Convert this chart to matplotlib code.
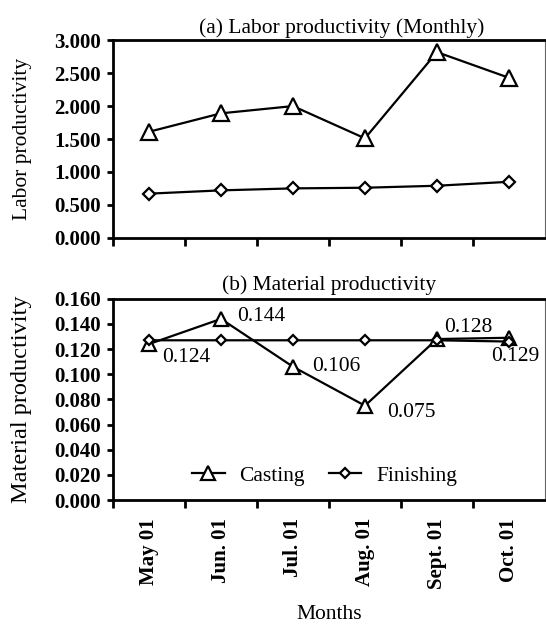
import matplotlib
matplotlib.use("Agg")
import matplotlib.pyplot as plt
from matplotlib.ticker import FixedLocator

plt.rcParams['font.family'] = ['Liberation Serif', 'DejaVu Serif']

months = ['May 01', 'Jun. 01', 'Jul. 01', 'Aug. 01', 'Sept. 01', 'Oct. 01']

labor_casting = [1.61, 1.89, 2.00, 1.51, 2.82, 2.43]
labor_finishing = [0.67, 0.72, 0.75, 0.76, 0.79, 0.85]

material_casting = [0.124, 0.144, 0.106, 0.075, 0.128, 0.129]
material_finishing = [0.127, 0.127, 0.127, 0.127, 0.127, 0.126]

# pixel offsets of the value labels on panel (b)
label_offsets = [(13, -13, 'left'), (16, 2, 'left'), (19, 0, 'left'),
                 (22, -7, 'left'), (7, 12, 'left'), (6, -19, 'center')]

fig = plt.figure(figsize=(5.46, 6.29), dpi=100)
ax1 = fig.add_axes([0.207, 0.622, 0.791, 0.314])
ax2 = fig.add_axes([0.207, 0.205, 0.791, 0.320])

x = list(range(len(months)))


def style_axes(ax):
    for side in ['left', 'top', 'bottom']:
        ax.spines[side].set_linewidth(2.0)
    ax.spines['right'].set_linewidth(0.8)
    ax.spines['right'].set_color('#666666')
    ax.set_xlim(-0.5, len(months) - 0.5)
    ax.xaxis.set_major_locator(FixedLocator(x))
    ax.xaxis.set_minor_locator(FixedLocator([i - 0.5 for i in x]))
    ax.tick_params(axis='x', which='major', length=0)
    ax.tick_params(axis='x', which='minor', length=6, width=2, direction='out')
    ax.tick_params(axis='y', length=4, width=2, direction='out', pad=5,
                   labelsize=15)
    for lab in ax.get_yticklabels():
        lab.set_fontweight('bold')
    ax.yaxis.set_label_coords(-0.187, 0.5)


# (a) labour productivity
ax1.plot(x, labor_casting, color='black', lw=1.6, marker='^', ms=12,
         mfc='white', mec='black', mew=1.6, label='Casting', zorder=3)
ax1.plot(x, labor_finishing, color='black', lw=1.6, marker='D', ms=6.5,
         mfc='white', mec='black', mew=1.6, label='Finishing', zorder=3)
ax1.set_ylim(0, 3.0)
ax1.set_yticks([0, 0.5, 1.0, 1.5, 2.0, 2.5, 3.0])
ax1.set_yticklabels(['%.3f' % v for v in ax1.get_yticks()])
style_axes(ax1)
ax1.set_xticklabels([])
ax1.set_ylabel('Labor productivity', fontsize=15.5)
ax1.set_title('(a) Labor productivity (Monthly)', fontsize=15.5, x=0.53, pad=5)

# (b) material productivity
ax2.plot(x, material_casting, color='black', lw=1.6, marker='^', ms=10,
         mfc='white', mec='black', mew=1.6, label='Casting', zorder=3)
ax2.plot(x, material_finishing, color='black', lw=1.6, marker='D', ms=5.5,
         mfc='white', mec='black', mew=1.6, label='Finishing', zorder=3)
ax2.set_ylim(0, 0.16)
ax2.set_yticks([0, 0.02, 0.04, 0.06, 0.08, 0.10, 0.12, 0.14, 0.16])
ax2.set_yticklabels(['%.3f' % v for v in ax2.get_yticks()])
style_axes(ax2)
ax2.set_xticklabels(months, rotation=90, fontsize=15, fontweight='bold',
                    va='top', ha='center')
ax2.tick_params(axis='x', which='major', pad=13)
ax2.set_ylabel('Material productivity', fontsize=17.5)
ax2.set_title('(b) Material productivity', fontsize=15.5, pad=6)
ax2.set_xlabel('Months', fontsize=15.5, labelpad=12)

for i, v in enumerate(material_casting):
    dx, dy, ha = label_offsets[i]
    ax2.annotate('%.3f' % v, (x[i], v), xytext=(dx, dy),
                 textcoords='offset pixels', ha=ha, va='center', fontsize=15.5)

ax2.legend(loc='center', bbox_to_anchor=(0.49, 0.12), ncol=2, frameon=False,
           fontsize=15.5, handlelength=1.5, handletextpad=0.7,
           columnspacing=1.1)

fig.savefig('out.png', dpi=100, facecolor='white')
